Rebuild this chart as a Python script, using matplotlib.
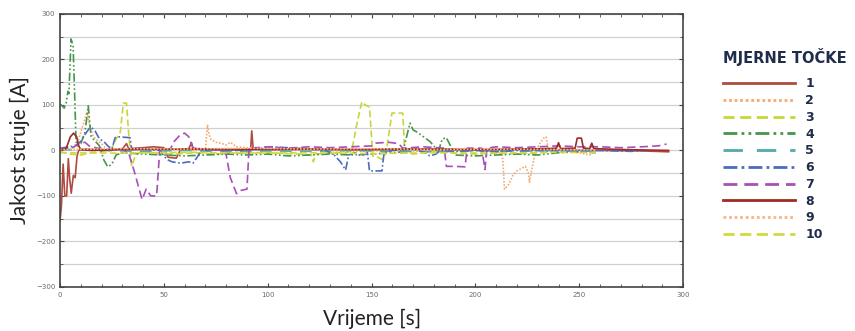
import numpy as np
import matplotlib.pyplot as plt
from matplotlib.ticker import MultipleLocator

# mjerne tocke: (vrijeme [s], struja [A])
s1 = [(0, -155), (0.7, -120), (1.5, -30), (2.3, -100), (3.2, -100), (4.0, -18), (4.6, -60),
      (5.4, -94), (6.4, -55), (7.3, -60), (8.2, -12), (9, 0), (10, 2), (13, 3), (20, 1),
      (30, 3), (32, 15), (33, 4), (40, 6), (45, 8), (50, 6), (52, -15), (56, -17), (58, 2),
      (62, 4), (63.3, 17), (64, 5), (70, 2), (80, 1), (90, 2), (91.8, 3), (92.3, 43), (93, 3),
      (100, 1), (120, 2), (140, 1), (160, 3), (180, 2), (200, 1), (220, 2), (240, 1),
      (260, 0), (280, -1), (293, -3)]
s2 = [(0, 0), (5, 3), (8, 10), (10, 40), (12, 70), (13, 85), (14, 60), (16, 30), (18, 22),
      (20, 15), (22, 5), (25, 0), (30, 2), (40, 0), (50, 3), (60, 2), (65, 0), (70, 3),
      (71, 55), (71.8, 35), (72.5, 25), (75, 18), (78, 15), (80, 12), (82, 18), (85, 8),
      (90, 6), (95, 3), (100, 0), (120, 1), (140, -2), (160, 0), (180, -3), (200, 0),
      (210, -2), (213, -10), (214, -85), (216, -75), (218, -55), (220, -45), (222, -40),
      (224, -35), (225.5, -50), (226, -70), (227, -45), (229, 0), (231, 15), (233, 28),
      (234, 30), (235, 5), (240, 0), (250, -5), (255, -10), (258, 0)]
s3 = [(0, -3), (5, -8), (10, -10), (15, -5), (20, -3), (25, 5), (27, 25), (29, 40),
      (30.5, 104), (32, 104), (33, 40), (34.5, -35), (36, -15), (38, -5), (45, -5),
      (55, -8), (65, -5), (75, -8), (90, -5), (100, -5), (115, -8), (121, -10), (122, -25),
      (123, -8), (130, -5), (138, -5), (140.5, 0), (143, 60), (145.3, 107), (147, 100),
      (149, 95), (150.6, -12), (153, -15), (155, -20), (157, -5), (159.8, 82), (165, 82),
      (166, -5), (170, -8), (180, -3), (190, -5), (200, -8), (210, -5), (220, -8),
      (230, -5), (240, -3), (250, -2), (258, -3)]
s4 = [(0, 102), (1, 98), (2, 93), (3, 105), (3.8, 130), (4.3, 125), (5.3, 245), (6.3, 230),
      (7.2, 100), (7.7, 20), (8.5, 10), (10, 15), (12, 40), (13.6, 98), (14.3, 60), (15, 30),
      (17, 20), (19, 10), (21, -20), (23, -36), (25, -30), (27, -10), (30, -5), (40, -8),
      (50, -10), (60, -12), (70, -10), (80, -8), (90, -10), (100, -8), (110, -12),
      (120, -10), (130, -8), (140, -10), (150, -8), (160, -5), (165, -3), (168.5, 60),
      (170, 45), (172, 40), (175, 30), (178, 20), (180, 10), (182, -5), (184, 25),
      (186, 28), (188, 10), (190, -10), (200, -12), (210, -10), (220, -8), (230, -10),
      (240, -5), (250, -3), (258, -5)]
s5 = [(0, 2), (20, 0), (40, -2), (60, 0), (80, -3), (100, -1), (120, -2), (140, 0),
      (160, -2), (180, -3), (200, -1), (220, -2), (240, 0), (260, -2)]
s6 = [(0, 5), (5, 8), (8, 12), (10, 20), (12, 35), (14, 48), (15.3, 50), (17, 42), (19, 25),
      (21, 20), (23, 10), (25, 3), (26.5, 28), (28, 30), (33.7, 28), (34.5, 2), (40, 3),
      (48, 0), (51.5, -20), (54, -25), (58, -28), (62, -25), (64, -28), (66, -15), (68, 0),
      (75, 2), (85, 0), (95, 3), (100, 8), (110, 6), (120, 3), (128, 0), (132, -10),
      (135, -25), (137.5, -43), (139, -10), (142, -5), (145, -12), (148, -5), (149, -45),
      (155, -45), (156, -5), (160, 0), (170, 3), (176, -5), (178, -12), (181, -8), (183, 0),
      (190, -2), (200, 0), (210, -3), (220, 0), (240, -1), (260, 0), (275, -2), (282, 0)]
s7 = [(0, 5), (5, 3), (9, 15), (12, 18), (14, 10), (18, 5), (25, 2), (30, 3), (33, -5),
      (36, -50), (39.5, -108), (41.5, -85), (43.7, -100), (46.5, -100), (48, 0), (50, 5),
      (53, 2), (55, 20), (58, 35), (60, 38), (62, 30), (64, 5), (70, 3), (78, 0), (80, -10),
      (82, -60), (85, -95), (87, -88), (90, -85), (91, 5), (100, 8), (110, 5), (120, 8),
      (130, 6), (140, 8), (150, 10), (152, 16), (158, 18), (163, 15), (165, 5), (175, 8),
      (185, 5), (186, -35), (190, -35), (195, -36), (196, 5), (203, 5), (204.6, -42),
      (205.5, 5), (210, 8), (220, 6), (230, 8), (240, 10), (250, 8), (260, 8), (270, 6),
      (280, 8), (288, 10), (292, 14)]
s8 = [(0, 0), (3, 5), (5, 30), (6.5, 38), (8, 30), (9, 10), (10, 2), (15, 0), (30, 2),
      (60, 3), (90, 2), (120, 3), (150, 2), (180, 3), (200, 2), (220, 3), (235, 4),
      (239, 5), (240, 17), (241, 4), (248, 5), (249, 27), (251, 27), (252, 5), (255, 4),
      (256, 16), (257, 4), (270, 2), (293, 0)]
s9 = [(0, 2), (30, 4), (60, 3), (90, 5), (120, 3), (150, 4), (180, 2), (210, 3), (240, 2),
      (258, 1)]
s10 = [(0, -5), (30, -6), (60, -4), (90, -6), (120, -5), (150, -7), (180, -5), (210, -6),
       (240, -4), (258, -5)]

series = [s1, s2, s3, s4, s5, s6, s7, s8, s9, s10]
labels = ['1', '2', '3', '4', '5', '6', '7', '8', '9', '10']
colors = ['#b04a40', '#f7aa70', '#c8d63a', '#45954a', '#52aaaa',
          '#4d6cbf', '#a650b8', '#9c2c24', '#f9b585', '#d2d844']
styles = ['-', (0, (1, 1)), (0, (4, 2)), (0, (5, 1.5, 1, 1.5, 1, 1.5)), (0, (7, 5)),
          (0, (5, 1.5, 1, 1.5)), (0, (5, 2.5)), '-', (0, (1, 1)), (0, (4, 2))]

fig = plt.figure(figsize=(8.55, 3.31), dpi=100)
ax = fig.add_axes([0.0702, 0.133, 0.7288, 0.825])

for s, lab, c, ls in zip(series, labels, colors, styles):
    t, v = np.array(s).T
    ax.plot(t, v, color=c, linestyle=ls, linewidth=1.2, label=lab)

ax.set_xlim(0, 300)
ax.set_ylim(-300, 300)
ax.xaxis.set_major_locator(MultipleLocator(50))
ax.xaxis.set_minor_locator(MultipleLocator(10))
ax.yaxis.set_major_locator(MultipleLocator(100))
ax.yaxis.set_minor_locator(MultipleLocator(50))
ax.yaxis.grid(True, which='both', color='#d0d0d0', linewidth=0.9)
ax.set_axisbelow(True)
ax.tick_params(which='both', direction='in', top=True, right=True,
               labelsize=5, labelcolor='#6a6a6a', color='#444444')
ax.tick_params(which='major', length=3)
ax.tick_params(which='minor', length=2)
for sp in ax.spines.values():
    sp.set_color('#444444')
    sp.set_linewidth(1.2)

ax.set_xlabel('Vrijeme [s]', fontsize=15, family='Lato', color='#222222', labelpad=8)
ax.set_ylabel('Jakost struje [A]', fontsize=15, family='Lato', color='#222222', labelpad=4)

leg = fig.legend(loc='upper left', bbox_to_anchor=(0.832, 0.888), frameon=False,
                 title='MJERNE TOČKE', handlelength=5.8, labelspacing=0.3,
                 handletextpad=0.8, prop={'weight': 'bold', 'size': 9},
                 title_fontproperties={'weight': 'bold', 'size': 10.5})
leg._legend_box.align = 'left'
leg._legend_box.sep = 8
leg.get_title().set_color('#1f2d4a')
for txt in leg.get_texts():
    txt.set_color('#1f2d4a')
for ln in leg.get_lines():
    ln.set_linewidth(2)

fig.savefig('out.png', dpi=100)
